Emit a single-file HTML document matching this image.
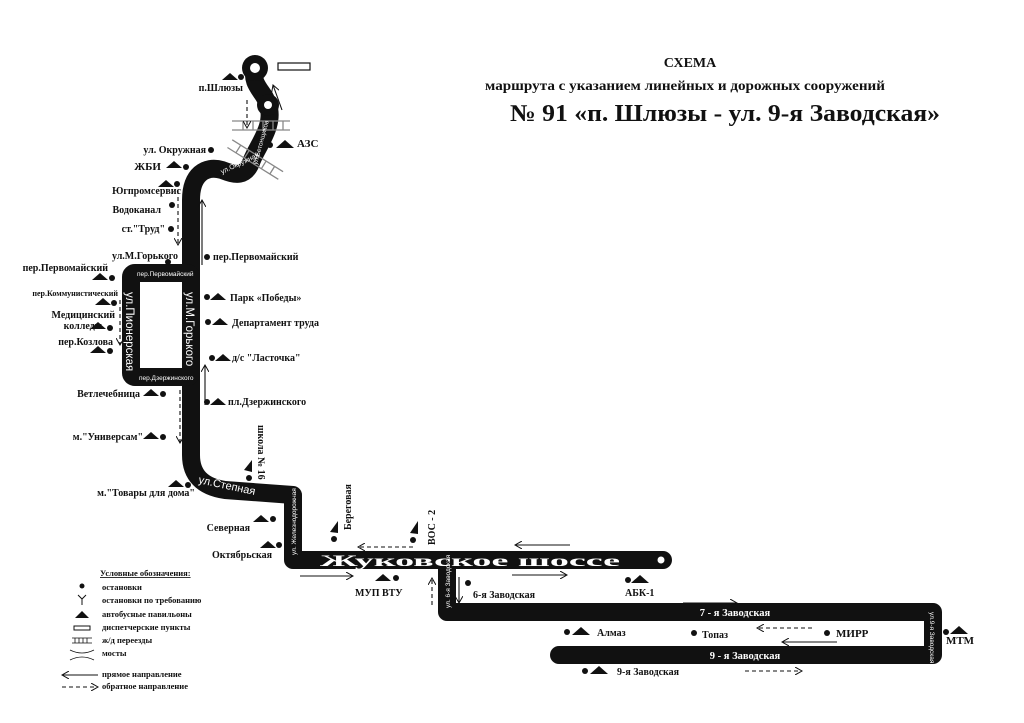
<!DOCTYPE html>
<html><head><meta charset="utf-8"><style>
body{margin:0;background:#fff}
svg{display:block}
text{font-family:"Liberation Serif",serif;font-weight:bold;fill:#111}
.s{font-size:10px}
.w{fill:#fff;font-family:"Liberation Sans",sans-serif;font-weight:normal}
</style></head><body>
<svg width="1024" height="723" viewBox="0 0 1024 723" xmlns="http://www.w3.org/2000/svg">
<defs>
<marker id="ah" markerWidth="8" markerHeight="8" refX="7" refY="4" orient="auto" markerUnits="userSpaceOnUse"><path d="M0,0 L7,4 L0,8" fill="none" stroke="#111" stroke-width="1"/></marker>
</defs>
<!-- title -->
<text x="690" y="67" text-anchor="middle" font-size="14">СХЕМА</text>
<text x="685" y="90" text-anchor="middle" font-size="14" textLength="400" lengthAdjust="spacingAndGlyphs">маршрута с указанием линейных и дорожных сооружений</text>
<text x="725" y="121" text-anchor="middle" font-size="24" textLength="430" lengthAdjust="spacingAndGlyphs">№ 91 «п. Шлюзы - ул. 9-я Заводская»</text>

<!-- roads -->
<g fill="none" stroke="#111" stroke-width="18" stroke-linejoin="round" stroke-linecap="round">
<path d="M255,68 C250,85 265,92 268,105 C275,125 258,145 252,160 C246,178 235,175 222,170 C205,165 191,175 191,200 L191,455 Q191,485 225,490 L293,495 L293,560 L663,560"/>
<rect x="131" y="273" width="60" height="104" rx="4"/>
<path d="M447,560 L447,612 L933,612 L933,655 L559,655"/>
</g>
<circle cx="255" cy="68" r="13" fill="#111"/><circle cx="255" cy="68" r="5" fill="#fff"/>
<circle cx="268" cy="105" r="11" fill="#111"/><circle cx="268" cy="105" r="4" fill="#fff"/>
<circle cx="661" cy="560" r="3.5" fill="#fff"/>
<rect x="278" y="63" width="32" height="7" fill="#fff" stroke="#111" stroke-width="1.2"/>

<!-- rail crossings -->
<g stroke="#888" stroke-width="1.3" fill="none">
<path d="M232,121 H290 M232,130 H290 M243,121 V130 M253,121 V130 M263,121 V130 M273,121 V130 M283,121 V130"/>
<g transform="rotate(32 255 160)"><path d="M225,155 H285 M225,164 H285 M235,155 V164 M245,155 V164 M255,155 V164 M265,155 V164 M275,155 V164"/></g>
</g>

<!-- road labels -->
<text class="w" font-size="7" transform="translate(222,174) rotate(-25)">ул.Окружная</text>
<text class="w" font-size="6.5" transform="translate(257,165) rotate(-75)">ул.Бетонщиков</text>
<text class="w" x="137" y="276" font-size="6.5">пер.Первомайский</text>
<text class="w" x="139" y="380" font-size="6.5">пер.Дзержинского</text>
<text class="w" font-size="11.5" transform="translate(126,292) rotate(90)">ул.Пионерская</text>
<text class="w" font-size="11.5" transform="translate(186,292) rotate(90)">ул.М.Горького</text>
<text class="w" font-size="11" transform="translate(198,483) rotate(12)">ул.Степная</text>
<text class="w" font-size="6.5" transform="translate(296,555) rotate(-90)">ул. Железнодорожная</text>
<text class="w" font-size="6.5" transform="translate(450,608) rotate(-90)">ул. 6-я Заводская</text>
<text class="w" font-size="6.5" transform="translate(930,612) rotate(90)">ул.9-я Заводская</text>
<text x="320" y="566" font-size="16" style="fill:#fff" textLength="300" lengthAdjust="spacingAndGlyphs">Жуковское шоссе</text>
<text x="735" y="616" text-anchor="middle" font-size="10.5" style="fill:#fff">7 - я Заводская</text>
<text x="745" y="659" text-anchor="middle" font-size="10.5" style="fill:#fff">9 - я Заводская</text>

<!-- direction arrows -->
<g stroke="#111" stroke-width="1.1" fill="none" marker-end="url(#ah)">
<path d="M247,100 V128" stroke-dasharray="4,3"/>
<path d="M282,110 L273,85"/>
<path d="M178,190 V245" stroke-dasharray="4,3"/>
<path d="M202,265 V200"/>
<path d="M120,300 V345" stroke-dasharray="4,3"/>
<path d="M205,405 V365"/>
<path d="M180,390 V443" stroke-dasharray="4,3"/>
<path d="M413,547 H358" stroke-dasharray="4,3"/>
<path d="M570,545 H515"/>
<path d="M300,576 H353"/>
<path d="M512,575 H567"/>
<path d="M432,605 V578" stroke-dasharray="4,3"/>
<path d="M459,577 V603"/>
<path d="M683,603 H737"/>
<path d="M812,628 H757" stroke-dasharray="4,3"/>
<path d="M837,642 H782"/>
<path d="M745,671 H802" stroke-dasharray="4,3"/>
</g>

<!-- stops -->
<g fill="#111">
<polygon points="222,80 230,73 238,80"/><circle cx="241" cy="77" r="3"/>
<circle cx="270" cy="145" r="3"/><polygon points="276,148 285,140 294,148"/>
<circle cx="211" cy="150" r="3"/>
<polygon points="166,168 174,161 182,168"/><circle cx="186" cy="167" r="3"/>
<polygon points="158,187 166,180 174,187"/><circle cx="177" cy="184" r="3"/>
<circle cx="172" cy="205" r="3"/><circle cx="171" cy="229" r="3"/><circle cx="168" cy="262" r="3"/>
<circle cx="207" cy="257" r="3"/>
<polygon points="92,280 100,273 108,280"/><circle cx="112" cy="278" r="3"/>
<polygon points="95,305 103,298 111,305"/><circle cx="114" cy="303" r="3"/>
<polygon points="90,329 98,322 106,329"/><circle cx="110" cy="328" r="3"/>
<polygon points="90,353 98,346 106,353"/><circle cx="110" cy="351" r="3"/>
<circle cx="207" cy="297" r="3"/><polygon points="210,300 218,293 226,300"/>
<circle cx="208" cy="322" r="3"/><polygon points="212,325 220,318 228,325"/>
<circle cx="212" cy="358" r="3"/><polygon points="215,361 223,354 231,361"/>
<circle cx="207" cy="402" r="3"/><polygon points="210,405 218,398 226,405"/>
<polygon points="143,396 151,389 159,396"/><circle cx="163" cy="394" r="3"/>
<polygon points="143,439 151,432 159,439"/><circle cx="163" cy="437" r="3"/>
<polygon points="244,470 252,460 252,472"/><circle cx="249" cy="478" r="3"/>
<polygon points="168,487 176,480 184,487"/><circle cx="188" cy="485" r="3"/>
<polygon points="253,522 261,515 269,522"/><circle cx="273" cy="519" r="3"/>
<polygon points="260,548 268,541 276,548"/><circle cx="279" cy="545" r="3"/>
<polygon points="330,532 338,521 338,533"/><circle cx="334" cy="539" r="3"/>
<polygon points="410,533 418,521 418,534"/><circle cx="413" cy="540" r="3"/>
<polygon points="375,581 383,574 391,581"/><circle cx="396" cy="578" r="3"/>
<circle cx="468" cy="583" r="3"/>
<circle cx="628" cy="580" r="3"/><polygon points="631,583 640,575 649,583"/>
<circle cx="567" cy="632" r="3"/><polygon points="572,635 581,627 590,635"/>
<circle cx="694" cy="633" r="3"/><circle cx="827" cy="633" r="3"/>
<circle cx="946" cy="632" r="3"/><polygon points="950,634 959,626 968,634"/>
<circle cx="585" cy="671" r="3"/><polygon points="590,674 599,666 608,674"/>
</g>

<!-- stop labels -->
<g class="s">
<text x="243" y="91" text-anchor="end">п.Шлюзы</text>
<text x="297" y="147" font-size="11">АЗС</text>
<text x="206" y="153" text-anchor="end">ул. Окружная</text>
<text x="161" y="170" text-anchor="end" font-size="11">ЖБИ</text>
<text x="181" y="194" text-anchor="end">Югпромсервис</text>
<text x="161" y="213" text-anchor="end">Водоканал</text>
<text x="165" y="232" text-anchor="end">ст."Труд"</text>
<text x="178" y="259" text-anchor="end">ул.М.Горького</text>
<text x="213" y="260">пер.Первомайский</text>
<text x="108" y="271" text-anchor="end">пер.Первомайский</text>
<text x="118" y="296" text-anchor="end" font-size="8">пер.Коммунистический</text>
<text x="115" y="318" text-anchor="end">Медицинский</text>
<text x="102" y="329" text-anchor="end">колледж</text>
<text x="113" y="345" text-anchor="end">пер.Козлова</text>
<text x="230" y="301">Парк «Победы»</text>
<text x="232" y="326">Департамент труда</text>
<text x="232" y="361">д/с "Ласточка"</text>
<text x="228" y="405">пл.Дзержинского</text>
<text x="140" y="397" text-anchor="end">Ветлечебница</text>
<text x="143" y="440" text-anchor="end">м."Универсам"</text>
<text transform="translate(258,425) rotate(90)">школа № 16</text>
<text x="195" y="496" text-anchor="end">м."Товары для дома"</text>
<text x="250" y="531" text-anchor="end">Северная</text>
<text x="272" y="558" text-anchor="end">Октябрьская</text>
<text transform="translate(351,530) rotate(-90)">Береговая</text>
<text transform="translate(435,545) rotate(-90)">ВОС - 2</text>
<text x="355" y="596">МУП ВТУ</text>
<text x="473" y="598">6-я Заводская</text>
<text x="625" y="596">АБК-1</text>
<text x="597" y="636">Алмаз</text>
<text x="702" y="638">Топаз</text>
<text x="836" y="637" font-size="11">МИРР</text>
<text x="946" y="644" font-size="11">МТМ</text>
<text x="617" y="675">9-я Заводская</text>
</g>

<!-- legend -->
<g font-size="8.5">
<text x="100" y="576" text-decoration="underline">Условные обозначения:</text>
<text x="102" y="590">остановки</text>
<text x="102" y="603">остановки по требованию</text>
<text x="102" y="617">автобусные павильоны</text>
<text x="102" y="630">диспетчерские пункты</text>
<text x="102" y="643">ж/д переезды</text>
<text x="102" y="656">мосты</text>
<text x="102" y="677">прямое направление</text>
<text x="102" y="689">обратное направление</text>
</g>
<g fill="#111" stroke="#111">
<circle cx="82" cy="586" r="2.5" stroke="none"/>
<path d="M78,595 L82,599 L86,595 M82,599 V605" fill="none" stroke-width="1"/>
<polygon points="75,618 82,611 89,618" stroke="none"/>
<rect x="74" y="626" width="16" height="4" fill="#fff" stroke-width="1"/>
<path d="M72,638 H92 M72,643 H92 M75,638 V643 M79,638 V643 M83,638 V643 M87,638 V643" stroke-width="0.8" fill="none"/>
<path d="M70,650 Q82,656 94,650 M70,660 Q82,654 94,660" stroke-width="0.8" fill="none"/>
</g>
<g stroke="#111" stroke-width="1.1" fill="none">
<path d="M98,675 H62" marker-end="url(#ah)"/>
<path d="M62,687 H98" stroke-dasharray="4,3" marker-end="url(#ah)"/>
</g>
</svg>
</body></html>
